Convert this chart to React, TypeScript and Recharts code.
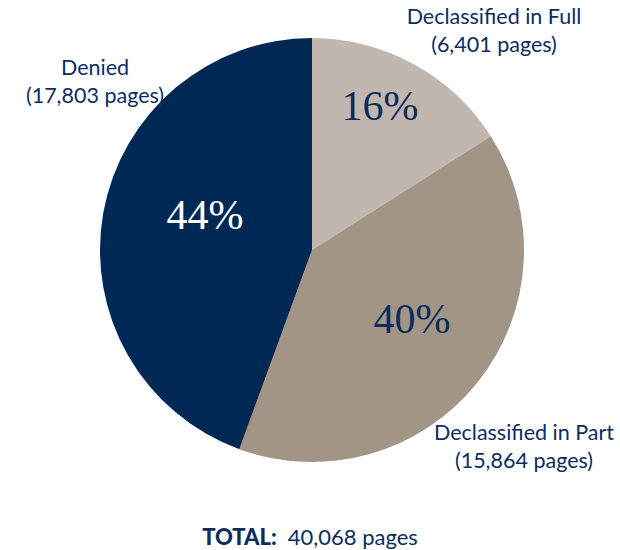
import { PieChart, Pie, Cell } from 'recharts';

document.body.style.margin = '0';

const categories = ['Declassified in Full', 'Declassified in Part', 'Denied'];
const pages = [6401, 15864, 17803];
const pageLabels = ['(6,401 pages)', '(15,864 pages)', '(17,803 pages)'];
const percentLabels = ['16%', '40%', '44%'];
const totalLabel = '40,068 pages';

const COLORS = ['#c1b7ae', '#a39585', '#002855'];
const PCT_COLORS = ['#0d2d5e', '#0d2d5e', '#ffffff'];
const NAVY = '#0d2d5e';

// label offsets relative to pie centre
const pctOffsets = [[68, -144], [100, 69], [-107, -35]];
const nameOffsets = [[182, -226], [212, 190], [-217, -175]];

const data = categories.map((name, i) => ({ name, value: pages[i] }));

const SANS = 'Lato, "Open Sans", sans-serif';
const SERIF = '"Liberation Serif", "DejaVu Serif", serif';

function renderLabel(props: any) {
  const { cx, cy, index } = props;
  const [px, py] = pctOffsets[index];
  const [nx, ny] = nameOffsets[index];
  return (
    <g key={`lbl-${index}`}>
      <text
        x={cx + px}
        y={cy + py}
        textAnchor="middle"
        dominantBaseline="central"
        fill={PCT_COLORS[index]}
        fontFamily={SERIF}
        fontSize={42}
      >
        {percentLabels[index]}
      </text>
      <text x={cx + nx} y={cy + ny} textAnchor="middle" fill={NAVY} fontFamily={SANS} fontSize={21.5}>
        <tspan x={cx + nx}>{categories[index]}</tspan>
        <tspan x={cx + nx} dy={28}>{pageLabels[index]}</tspan>
      </text>
    </g>
  );
}

export default function App() {
  return (
    <div style={{ position: 'relative', width: 620, height: 550, background: '#fff' }}>
      <PieChart width={620} height={550} margin={{ top: 0, right: 0, bottom: 0, left: 0 }}>
        <Pie
          data={data}
          dataKey="value"
          cx={312}
          cy={250}
          outerRadius={212}
          startAngle={90}
          endAngle={-270}
          stroke="none"
          label={renderLabel}
          labelLine={false}
          isAnimationActive={false}
        >
          {data.map((d, i) => (
            <Cell key={d.name} fill={COLORS[i]} />
          ))}
        </Pie>
      </PieChart>
      <div
        style={{
          position: 'absolute',
          left: 0,
          top: 523,
          width: 620,
          textAlign: 'center',
          fontFamily: SANS,
          fontSize: 22,
          color: NAVY,
        }}
      >
        <span style={{ fontWeight: 900 }}>TOTAL:</span>
        <span style={{ marginLeft: 11 }}>{totalLabel}</span>
      </div>
    </div>
  );
}
